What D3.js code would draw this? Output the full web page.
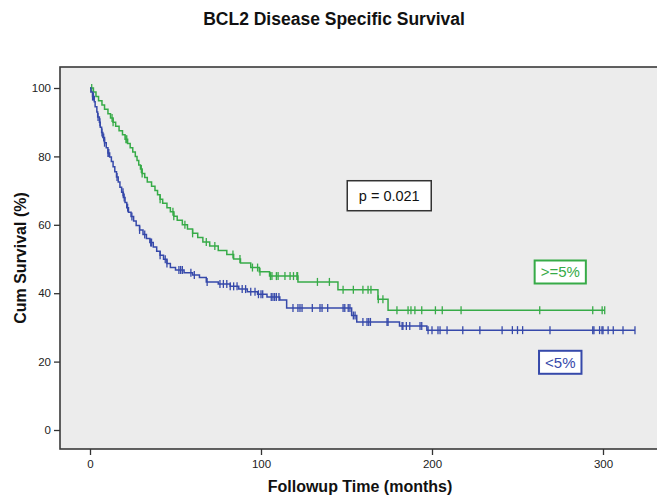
<!DOCTYPE html>
<html>
<head>
<meta charset="utf-8">
<script src="https://cdn.jsdelivr.net/npm/d3@7"></script>
<style>
  body { margin: 0; background: #fff; }
  svg { display: block; font-family: "Liberation Sans", Arial, sans-serif; }
</style>
</head>
<body>
<div id="chart"></div>
<script>
// Kaplan-Meier steps: [months, cum survival % after the event]
const highSteps = [[0,100],[2,98.8],[3.5,97.5],[5,96.3],[7,95],[8.5,93.8],[10.5,92.5],[12,91.2],[13.5,90],[15,88.8],[17,87.5],[19,86.3],[20.5,85],[22,83.8],[23.5,82.5],[25,81.3],[26.5,80],[27.5,78.8],[28.5,77.5],[29.5,76.3],[30.5,75],[32,73.8],[33.5,72.5],[36,71.3],[38,70],[39.5,68.8],[41,67.5],[42.5,66.3],[45,65],[47,63.8],[49,62.5],[51,61.3],[54,60],[57,58.8],[60,57.5],[63,56.3],[66,55],[70,53.8],[75,52.5],[80,51.3],[84,50],[88,48.8],[94,47.5],[99,46.3],[105,45],[121.6,43.3],[145,41],[168.4,38.2],[174.3,35]];
const highCensored = [1,12.9,13.5,21,21.5,30,30.5,41,48.5,49,55.5,60,68,73,83.6,87.7,95,98,99.4,105.5,106.4,109,110,114,117,119,121,121.4,133,140,148,154,159.6,162.6,164.3,168.6,171.3,179.5,186,187.7,190,194,202,206,217,263,294,299.5,301];

const lowSteps = [[0,100],[0.5,98.8],[1.5,97.5],[2.5,96],[3,94.5],[4,93],[4.5,91.5],[5.5,90],[6,88.5],[6.8,87],[7.5,85.5],[8.5,84],[9.5,82.5],[10.5,81],[11.5,79.8],[12.5,78.5],[13.5,77],[14.5,75.5],[15.5,74],[16.5,72.5],[17.5,71],[18.5,69.5],[19.5,68],[20.5,66.5],[21.5,65],[22.5,63.7],[24,62.4],[25.5,61.1],[27,59.8],[29,58.5],[31,57.2],[33,56],[35,54.8],[37,53.5],[39,52.3],[41,51.1],[43,49.9],[45,48.7],[47,47.5],[50,46.8],[55,46],[60,45.3],[64,44.6],[68,43.3],[75,42.7],[82,42],[87,41.2],[92,40.4],[98,39.7],[103.5,38.9],[111,38],[115,35.7],[153,33.5],[156,31.6],[181,30.4],[197,29.2]];
const lowCensored = [1.5,2,4.7,5.8,7,8,8.5,10.5,11,15.8,19.3,20,22,24.5,29,32,35.5,36,41,44,45,52,53,54,59,61,68.5,76,78,80,82,84,86,89,91,94,96.5,98.5,100,101,106,107,108,109,110.5,118.7,121.6,122.8,124,130,134.5,135.7,139,148,149,151,152,154,155,159.6,162,163,164,173.7,174.3,182.5,183,185,187,193,194,197.7,200,203.5,204.7,208.8,218,228,241,247,250,253,269,294,294.7,298,299.4,300,303,306,311.7,318.7];

const xTicks = [0, 100, 200, 300];
const yTicks = [0, 20, 40, 60, 80, 100];
const groups = [
  {name: ">=5%", steps: highSteps, censored: highCensored, color: "#37ab48", label: [275, 46.2]},
  {name: "<5%", steps: lowSteps, censored: lowCensored, color: "#3649aa", label: [275, 19.8]}
];

const width = 657, height = 495;
const plot = {left: 60, top: 67, right: 662, bottom: 449};

const x = d3.scaleLinear().domain([0, 300]).range([90, 603]);
const y = d3.scaleLinear().domain([0, 100]).range([430, 88]);

const svg = d3.select("#chart").append("svg")
  .attr("width", width)
  .attr("height", height);

// title
svg.append("text")
  .attr("x", 334).attr("y", 25)
  .attr("text-anchor", "middle")
  .attr("font-size", 17.5).attr("font-weight", "bold").attr("fill", "#111")
  .text("BCL2 Disease Specific Survival");

// plot background
svg.append("rect")
  .attr("x", plot.left).attr("y", plot.top)
  .attr("width", plot.right - plot.left).attr("height", plot.bottom - plot.top)
  .attr("fill", "#ececec").attr("stroke", "#3a3a3a").attr("stroke-width", 1.6);

// axes
const yAxis = svg.append("g")
  .attr("transform", `translate(${plot.left},0)`)
  .call(d3.axisLeft(y).tickValues(yTicks).tickSize(6).tickPadding(3));
const xAxis = svg.append("g")
  .attr("transform", `translate(0,${plot.bottom})`)
  .call(d3.axisBottom(x).tickValues(xTicks).tickSize(6).tickPadding(5));
[yAxis, xAxis].forEach(g => {
  g.select(".domain").remove();
  g.selectAll("line").attr("stroke", "#333").attr("stroke-width", 1.3);
  g.selectAll("text").attr("font-size", 11.5).attr("fill", "#222")
    .attr("font-family", "'Liberation Sans', Arial, sans-serif");
});

// axis titles
svg.append("text")
  .attr("x", 360).attr("y", 492)
  .attr("text-anchor", "middle")
  .attr("font-size", 16).attr("font-weight", "bold").attr("fill", "#111")
  .text("Followup Time (months)");
svg.append("text")
  .attr("transform", "translate(26,258) rotate(-90)")
  .attr("text-anchor", "middle")
  .attr("font-size", 16).attr("font-weight", "bold").attr("fill", "#111")
  .text("Cum Survival (%)");

// survival value at time t
function survAt(steps, t) {
  let s = steps[0][1];
  steps.forEach(d => { if (d[0] <= t) s = d[1]; });
  return s;
}

const line = d3.line()
  .x(d => x(d[0]))
  .y(d => y(d[1]))
  .curve(d3.curveStepAfter);

groups.forEach(g => {
  const end = d3.max(g.censored);
  const pts = g.steps.concat([[end, g.steps[g.steps.length - 1][1]]]);
  svg.append("path")
    .datum(pts)
    .attr("fill", "none")
    .attr("stroke", g.color)
    .attr("stroke-width", 1.5)
    .attr("d", line);

  svg.append("g")
    .selectAll("line")
    .data(g.censored)
    .enter().append("line")
    .attr("x1", d => x(d)).attr("x2", d => x(d))
    .attr("y1", d => y(survAt(g.steps, d)) - 4)
    .attr("y2", d => y(survAt(g.steps, d)) + 4)
    .attr("stroke", g.color)
    .attr("stroke-width", 1.3);
});

// group labels
groups.forEach(g => {
  const lab = svg.append("g")
    .attr("transform", `translate(${x(g.label[0])},${y(g.label[1])})`);
  const t = lab.append("text")
    .attr("text-anchor", "middle").attr("dy", "0.36em")
    .attr("font-size", 15).attr("fill", g.color)
    .text(g.name);
  const bb = t.node().getBBox();
  lab.insert("rect", "text")
    .attr("x", bb.x - 6).attr("y", -11.5)
    .attr("width", bb.width + 12).attr("height", 23)
    .attr("fill", "#fff").attr("stroke", g.color).attr("stroke-width", 2);
});

// p value box
const pBox = svg.append("g").attr("transform", `translate(${x(175)},${y(68.5)})`);
pBox.append("rect")
  .attr("x", -42).attr("y", -15).attr("width", 84).attr("height", 30)
  .attr("fill", "#fff").attr("stroke", "#333").attr("stroke-width", 1.5);
pBox.append("text")
  .attr("text-anchor", "middle").attr("dy", "0.36em")
  .attr("font-size", 14.5).attr("fill", "#111")
  .text("p = 0.021");
</script>
</body>
</html>
